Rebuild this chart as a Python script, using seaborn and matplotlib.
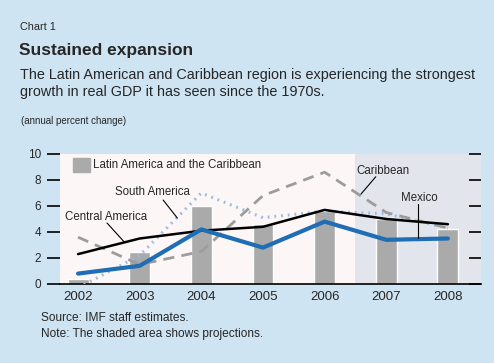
import numpy as np
import pandas as pd
import matplotlib
matplotlib.use('Agg')
import matplotlib.pyplot as plt
import seaborn as sns

sns.set_style('white')
plt.rcParams['font.family'] = ['Liberation Sans', 'DejaVu Sans']

years = ['2002', '2003', '2004', '2005', '2006', '2007', '2008']
lac = [0.4, 2.5, 6.0, 4.6, 5.6, 5.0, 4.2]              # bars
mexico = [0.8, 1.4, 4.2, 2.8, 4.8, 3.4, 3.5]
central_america = [2.3, 3.5, 4.1, 4.4, 5.7, 5.0, 4.6]
caribbean = [3.6, 1.5, 2.5, 6.8, 8.6, 5.5, 4.3]
south_america = [-0.3, 2.2, 7.0, 5.1, 5.6, 5.4, 4.3]
yticks = [0, 2, 4, 6, 8, 10]

BG = '#cfe4f2'
W, H = 494, 363

fig = plt.figure(figsize=(W / 100, H / 100), dpi=100, facecolor=BG)


def fx(px):
    return px / W


def fy(py):
    return 1 - py / H


ax = fig.add_axes([fx(60), fy(284), fx(481 - 60), (284 - 154) / H])
ax.set_facecolor('#fcf6f6')

df = pd.DataFrame({'year': years, 'lac': lac, 'mex': mexico, 'ca': central_america,
                   'car': caribbean, 'sa': south_america})
df['pos'] = np.arange(len(years))

# projection shading
ax.axvspan(4.5, 6.6, color='#e3e5ed', lw=0, zorder=0)

sns.barplot(data=df, x='year', y='lac', color='#a9aaa9', saturation=1,
            width=0.34, ax=ax, zorder=2)

sns.lineplot(data=df, x='pos', y='sa', ax=ax, color='#9dbbdf', lw=2.2,
             linestyle=(0, (0.6, 1.6)), zorder=3)
sns.lineplot(data=df, x='pos', y='car', ax=ax, color='#9c9c9c', lw=2,
             linestyle=(0, (4, 2.6)), zorder=3)
sns.lineplot(data=df, x='pos', y='ca', ax=ax, color='black', lw=1.8, zorder=4)
sns.lineplot(data=df, x='pos', y='mex', ax=ax, color='#1f6db4', lw=3, zorder=5)

ax.set_xlim(-0.293, 6.537)
ax.set_ylim(0, 10)
ax.set_xlabel('')
ax.set_ylabel('')
for s in ['top', 'left', 'right']:
    ax.spines[s].set_visible(False)
ax.spines['bottom'].set_color('black')
ax.spines['bottom'].set_linewidth(1.2)

# left ticks point outward with labels
ax.set_yticks(yticks)
ax.set_yticklabels([str(t) for t in yticks], fontsize=8.5)
ax.tick_params(axis='y', left=True, right=False, direction='out',
               length=9.5, width=1.2, pad=4, color='black')

# right ticks point inward, no labels
sec = ax.secondary_yaxis('right')
sec.set_yticks(yticks)
sec.tick_params(axis='y', direction='in', length=8.5, width=1.2,
                labelright=False, color='black')
sec.spines['right'].set_visible(False)

ax.set_xticks(np.arange(len(years)))
ax.set_xticklabels(years, fontsize=9.5)
ax.tick_params(axis='x', length=0, pad=5)
ax.set_xticks(np.arange(len(years) - 1) + 0.5, minor=True)
ax.tick_params(axis='x', which='minor', direction='in', length=4, width=1.2,
               color='black')

# legend for bars
fig.patches.append(plt.Rectangle((fx(73), fy(172)), fx(17), 14 / H,
                                 transform=fig.transFigure, color='#a9aaa9'))
fig.text(fx(93), fy(165), 'Latin America and the Caribbean', fontsize=8.3,
         va='center', ha='left')

# labels with leader lines
ann = dict(fontsize=8.3, va='center', ha='center')
ax.text(1.20, 7.08, 'South America', **ann)
ax.plot([1.38, 1.61], [6.46, 5.08], color='black', lw=0.8, zorder=6)
ax.text(0.45, 5.15, 'Central America', **ann)
ax.plot([0.47, 0.75], [4.69, 3.23], color='black', lw=0.8, zorder=6)
ax.text(4.94, 8.72, 'Caribbean', **ann)
ax.plot([4.83, 4.59], [8.25, 6.92], color='black', lw=0.8, zorder=6)
ax.text(5.54, 6.59, 'Mexico', **ann)
ax.plot([5.52, 5.52], [6.15, 3.51], color='black', lw=0.8, zorder=6)

# header and footer
fig.text(fx(20), fy(27), 'Chart 1', fontsize=7.8, va='center')
fig.text(fx(19), fy(50), 'Sustained expansion', fontsize=12.5,
         fontweight='bold', va='center')
fig.text(fx(20), fy(75), 'The Latin American and Caribbean region is experiencing the strongest',
         fontsize=10.4, va='center')
fig.text(fx(20), fy(92), 'growth in real GDP it has seen since the 1970s.',
         fontsize=10.4, va='center')
fig.text(fx(21), fy(121), '(annual percent change)', fontsize=7, va='center')
fig.text(fx(41), fy(318), 'Source: IMF staff estimates.', fontsize=8.6, va='center')
fig.text(fx(41), fy(334), 'Note: The shaded area shows projections.', fontsize=8.6,
         va='center')

fig.savefig('out.png', dpi=100, facecolor=BG)
